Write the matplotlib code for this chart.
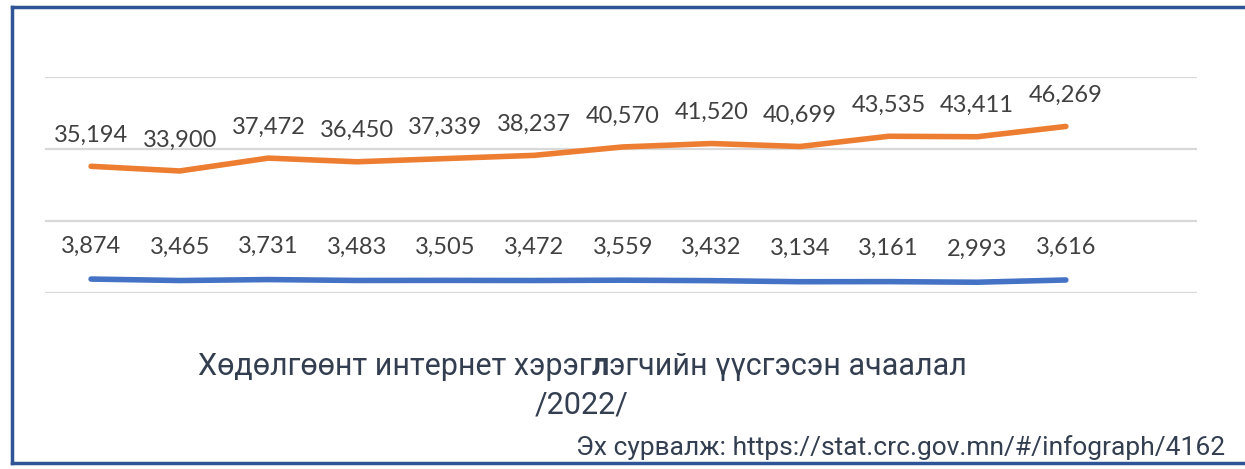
import matplotlib
matplotlib.use("Agg")
import matplotlib.pyplot as plt
from matplotlib.lines import Line2D

# monthly values, 2022
months = ["1", "2", "3", "4", "5", "6", "7", "8", "9", "10", "11", "12"]
orange_vals = [35194, 33900, 37472, 36450, 37339, 38237, 40570, 41520, 40699, 43535, 43411, 46269]
blue_vals = [3874, 3465, 3731, 3483, 3505, 3472, 3559, 3432, 3134, 3161, 2993, 3616]

title_parts = ["Хөдөлгөөнт интернет хэрэг", "л", "эгчийн үүсгэсэн ачаалал"]
title_line2 = "/2022/"
source = "Эх сурвалж: https://stat.crc.gov.mn/#/infograph/4162"

W, H = 1245, 469
fig = plt.figure(figsize=(W / 100, H / 100), dpi=100)
ax = fig.add_axes([45 / W, 1 - 293 / H, (1197 - 45) / W, (293 - 77) / H])

x = list(range(len(months)))
ax.plot(x, orange_vals, color="#ED7D31", linewidth=4, solid_capstyle="round", solid_joinstyle="round")
ax.plot(x, blue_vals, color="#4472C4", linewidth=4, solid_capstyle="round", solid_joinstyle="round")

for i, v in enumerate(orange_vals):
    ax.annotate(f"{v:,}", (i, v), xytext=(0, 31), textcoords="offset pixels",
                ha="center", va="center", fontsize=17, color="#404040", family="Lato")
for i, v in enumerate(blue_vals):
    ax.annotate(f"{v:,}", (i, v), xytext=(0, 33), textcoords="offset pixels",
                ha="center", va="center", fontsize=17, color="#404040", family="Lato")

ax.set_xlim(-0.52, 12.48)
ax.set_ylim(0, 60000)
ax.set_yticks([0, 20000, 40000, 60000])
ax.yaxis.grid(True, color="#D9D9D9", linewidth=1.6)
ax.set_axisbelow(True)
ax.tick_params(left=False, bottom=False, labelleft=False, labelbottom=False)
for s in ax.spines.values():
    s.set_visible(False)

# frame around the picture (top, left, bottom)
frame_col = "#2F5597"
fig.add_artist(Line2D([12 / W, 1], [1 - 7 / H, 1 - 7 / H], color=frame_col, lw=2.5, transform=fig.transFigure))
fig.add_artist(Line2D([12 / W, 12 / W], [1 - 7 / H, 1 - 463 / H], color=frame_col, lw=2.5, transform=fig.transFigure))
fig.add_artist(Line2D([12 / W, 1], [1 - 463 / H, 1 - 463 / H], color=frame_col, lw=2.5, transform=fig.transFigure))

# title, with the bold letter in the middle
title_col = "#333F50"
title_font = dict(fontsize=22, color=title_col, family="Roboto", va="center")
renderer = fig.canvas.get_renderer()
texts = []
for k, part in enumerate(title_parts):
    t = fig.text(0, 1 - 366 / H, part, ha="left", fontweight="bold" if k == 1 else "normal", **title_font)
    texts.append(t)
widths = [t.get_window_extent(renderer).width for t in texts]
x0 = 582 - sum(widths) / 2
for t, w in zip(texts, widths):
    t.set_x(x0 / W)
    x0 += w
fig.text(582 / W, 1 - 405 / H, title_line2, ha="center", **title_font)

fig.text(1225 / W, 1 - 448 / H, source, ha="right", va="center", fontsize=19,
         color="#333F50", family="Roboto")

fig.savefig("out.png", dpi=100)
